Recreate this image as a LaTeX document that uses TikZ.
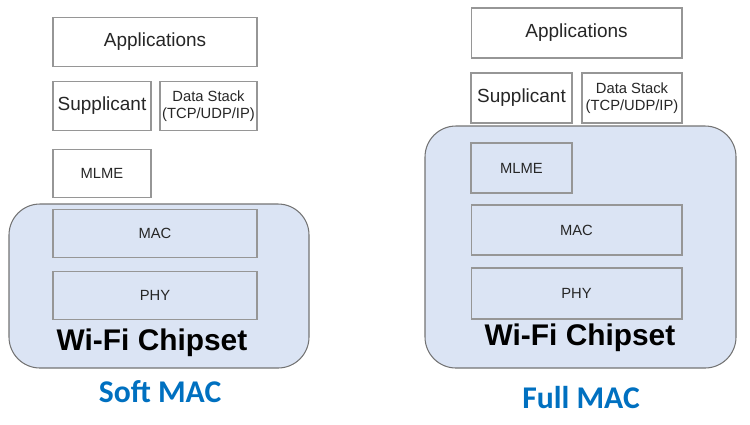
\documentclass[tikz,border=0pt]{standalone}
\usepackage{fontspec}
\setmainfont{Liberation Sans}
\newfontfamily\calibri{Carlito}
\usepackage{xcolor}
\usetikzlibrary{positioning}

\definecolor{chipfill}{RGB}{219,228,244}
\definecolor{chipline}{RGB}{115,115,115}
\definecolor{boxline}{RGB}{150,150,150}
\definecolor{macblue}{RGB}{0,112,192}

\tikzset{
  layer/.style={draw=boxline, line width=0.6pt, minimum height=0.97cm, inner sep=0pt, text=black!85},
  bigtxt/.style={font=\fontsize{10.8}{12}\selectfont},
  smalltxt/.style={font=\fontsize{8.4}{9.4}\selectfont},
  chipset/.style={draw=chipline, fill=chipfill, line width=0.6pt, rounded corners=0.62cm},
  chiplabel/.style={font=\bfseries\fontsize{17}{19}\selectfont},
  kind/.style={font=\calibri\bfseries\fontsize{18}{20}\selectfont, text=macblue}
}

\begin{document}
\begin{tikzpicture}[x=0.02cm, y=-0.02cm]
    \useasboundingbox (0,0) rectangle (750,424);

    % Soft MAC
    \draw[chipset] (9,204) rectangle (309,368);
    \node[layer, bigtxt, fill=white, minimum width=4.08cm] (sapp) at (155,42) {Applications};
    \node[layer, bigtxt, fill=white, minimum width=1.96cm] (ssupp) at (102,106) {Supplicant};
    \node[layer, smalltxt, fill=white, minimum width=1.94cm, align=center] (sdata) at (208.5,106) {Data Stack\\(TCP/UDP/IP)};
    \node[layer, smalltxt, fill=white, minimum width=1.96cm] (smlme) at (102,173.5) {MLME};
    \node[layer, smalltxt, minimum width=4.08cm] (smac) at (155,233.5) {MAC};
    \node[layer, smalltxt, minimum width=4.08cm] (sphy) at (155,295.5) {PHY};
    \node[chiplabel] (schip) at (152,343) {Wi-Fi Chipset};
    \node[kind] (soft) at (160,392) {Soft MAC};

    % Full MAC
    \draw[chipset] (425,126) rectangle (736,368);
    \node[layer, bigtxt, fill=white, minimum width=4.22cm, minimum height=1cm] (fapp) at (576.5,33) {Applications};
    \node[layer, bigtxt, fill=white, minimum width=2.02cm, minimum height=1cm] (fsupp) at (521.5,98) {Supplicant};
    \node[layer, smalltxt, fill=white, minimum width=2cm, minimum height=1cm, align=center] (fdata) at (632,98) {Data Stack\\(TCP/UDP/IP)};
    \node[layer, smalltxt, minimum width=2.02cm, minimum height=1cm] (fmlme) at (521.5,168) {MLME};
    \node[layer, smalltxt, minimum width=4.22cm, minimum height=1cm] (fmac) at (576.5,230) {MAC};
    \node[layer, smalltxt, minimum width=4.22cm, minimum height=1.02cm] (fphy) at (576.5,293.5) {PHY};
    \node[chiplabel] (fchip) at (580,338) {Wi-Fi Chipset};
    \node[kind] (full) at (581,398) {Full MAC};
\end{tikzpicture}
\end{document}
